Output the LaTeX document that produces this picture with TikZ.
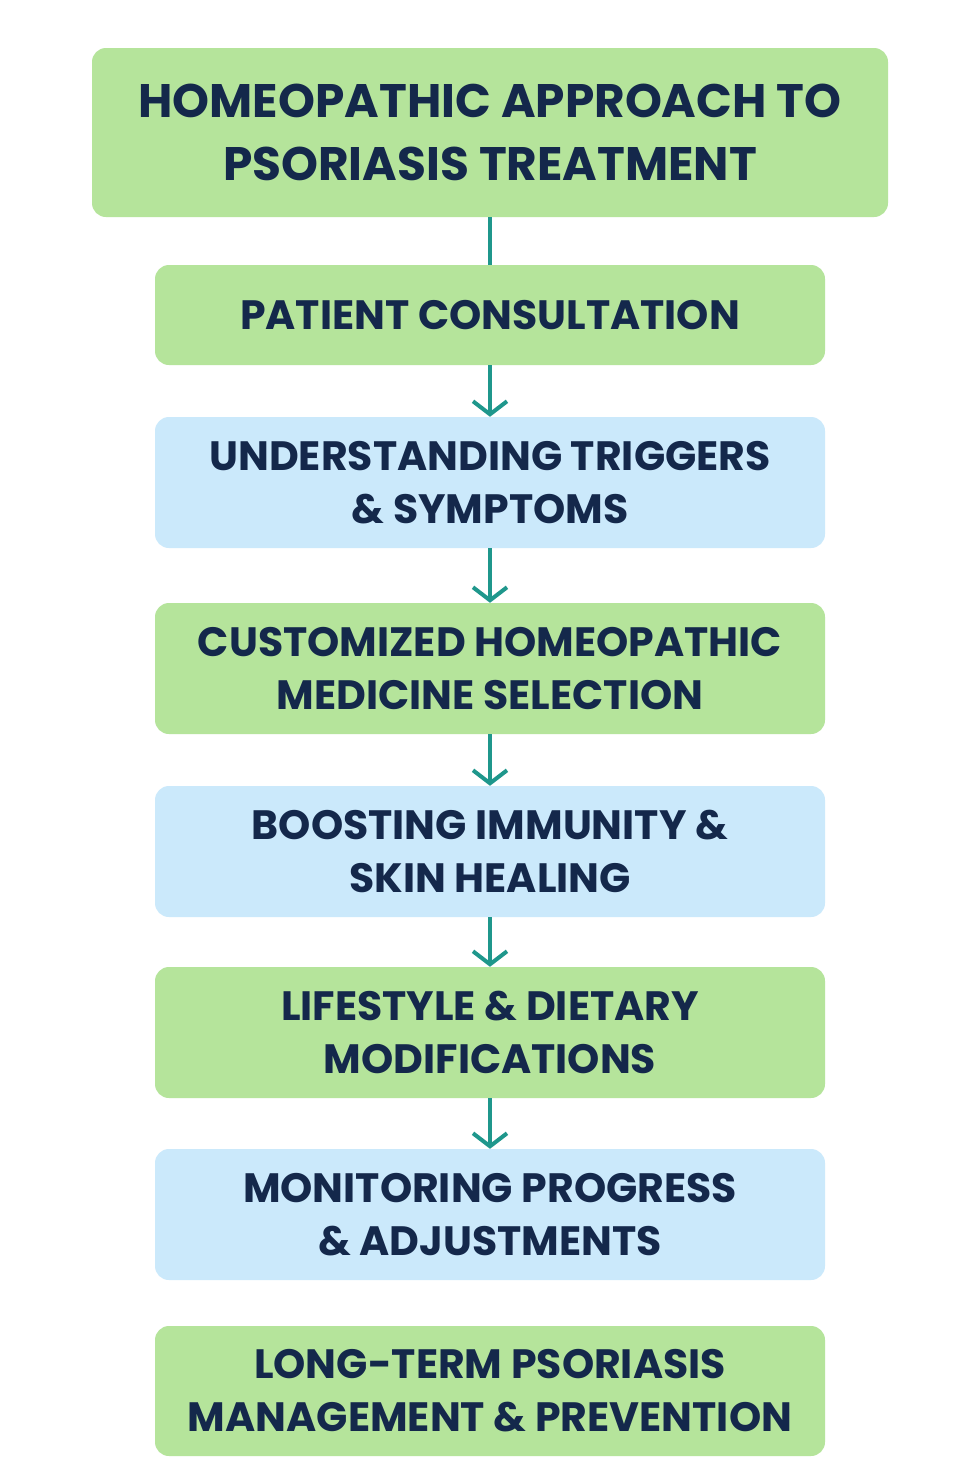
\documentclass[tikz,border=0pt]{standalone}
\usepackage{fontspec}
\setmainfont{Poppins}
\usetikzlibrary{arrows.meta}
\definecolor{gbox}{HTML}{B5E49B}
\definecolor{bbox}{HTML}{CBE9FB}
\definecolor{navy}{HTML}{14284B}
\definecolor{teal}{HTML}{1F978C}
\tikzset{
 stepbox/.style={rounded corners=14pt,minimum width=670pt,align=center,text=navy,font=\fontsize{41}{53}\selectfont\bfseries,inner sep=0pt},
 gstep/.style={stepbox,fill=gbox},
 bstep/.style={stepbox,fill=bbox},
 conn/.style={draw=teal,line width=4pt,-{Straight Barb[length=13pt,width=34pt,line width=4pt]}},
}
\begin{document}
\begin{tikzpicture}[x=1pt,y=-1pt]
\fill[white] (0,0) rectangle (980,1470);
\useasboundingbox (0,0) rectangle (980,1470);
\node[stepbox,fill=gbox,minimum width=796pt,minimum height=169pt,font=\fontsize{47}{63}\selectfont\bfseries] (t) at (490,132.5) {HOMEOPATHIC APPROACH TO\\PSORIASIS TREATMENT};
\node[gstep,minimum height=100pt] (a) at (490,315) {PATIENT CONSULTATION};
\node[bstep,minimum height=131pt] (b) at (490,482.5) {UNDERSTANDING TRIGGERS\\\& SYMPTOMS};
\node[gstep,minimum height=131pt] (c) at (490,668.5) {CUSTOMIZED HOMEOPATHIC\\MEDICINE SELECTION};
\node[bstep,minimum height=131pt] (d) at (490,851.5) {BOOSTING IMMUNITY \&\\SKIN HEALING};
\node[gstep,minimum height=131pt] (e) at (490,1032.5) {LIFESTYLE \& DIETARY\\MODIFICATIONS};
\node[bstep,minimum height=131pt] (f) at (490,1214.5) {MONITORING PROGRESS\\\& ADJUSTMENTS};
\node[gstep,minimum height=130pt] (g) at (490,1391) {LONG-TERM PSORIASIS\\MANAGEMENT \& PREVENTION};
\draw[draw=teal,line width=4pt] (t) -- (a);
\draw[conn] (a) -- (b);
\draw[conn] (b) -- (c);
\draw[conn] (c) -- (d);
\draw[conn] (d) -- (e);
\draw[conn] (e) -- (f);
\end{tikzpicture}
\end{document}
